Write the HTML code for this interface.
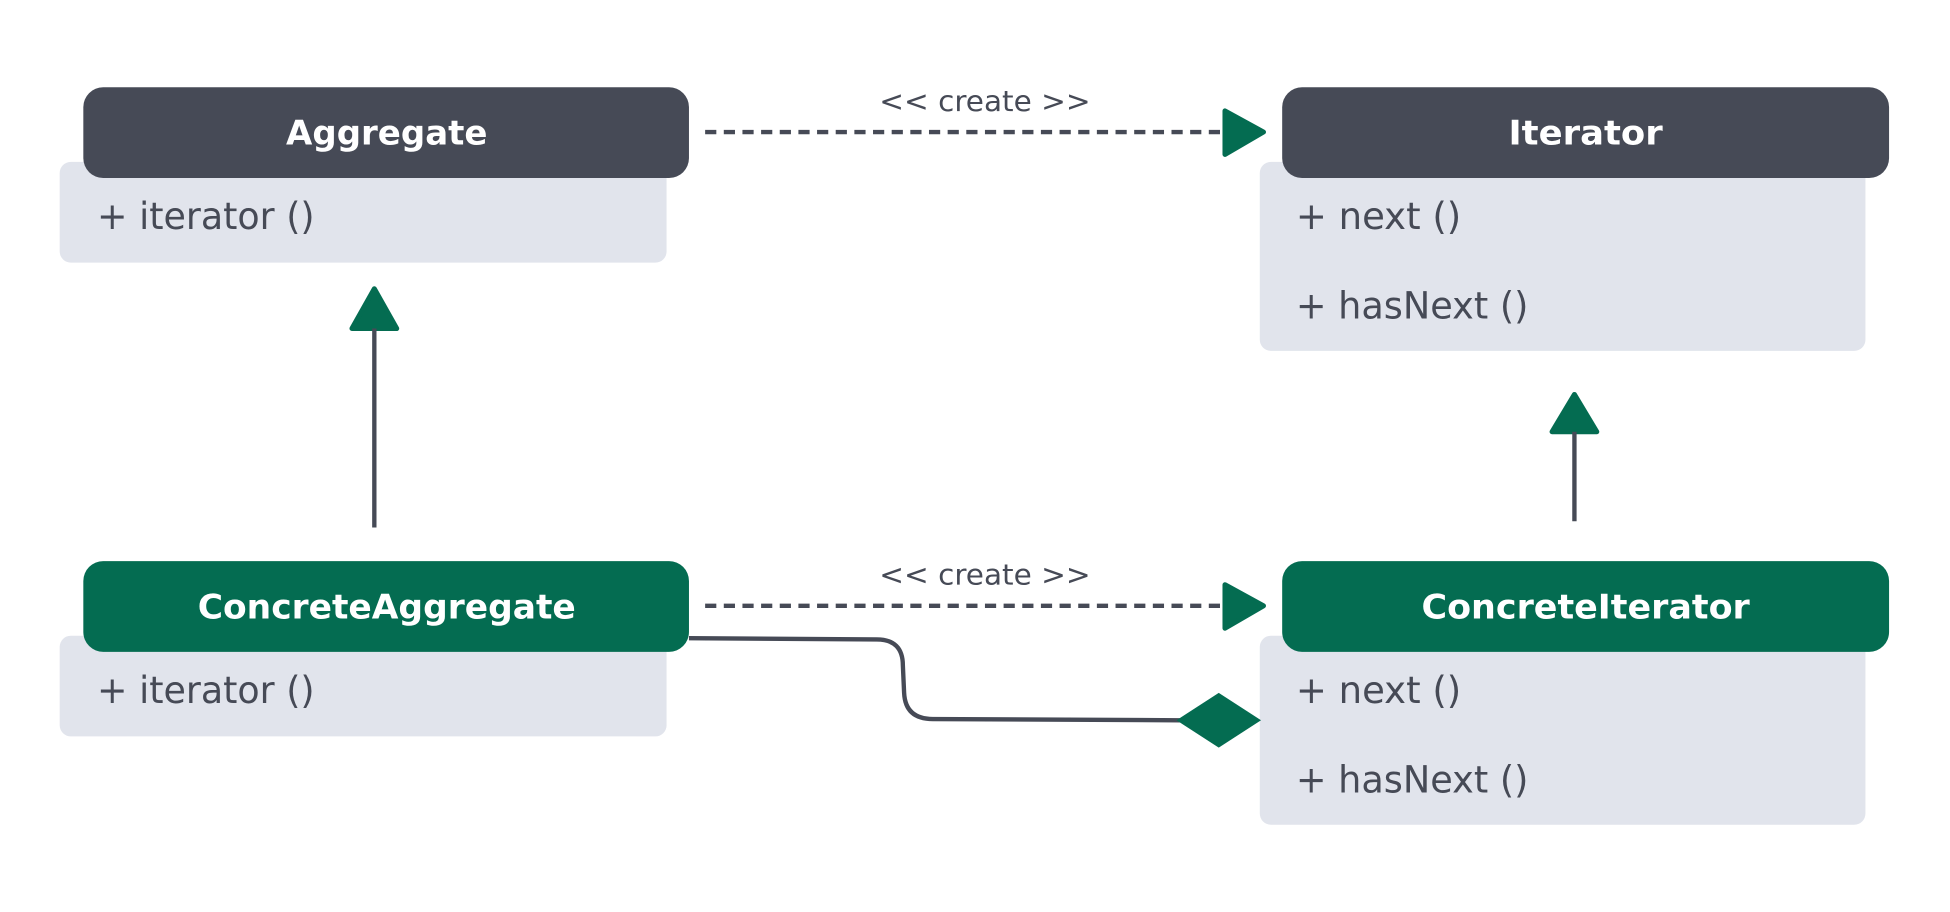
<!DOCTYPE html>
<html><head><meta charset="utf-8"><style>
html,body{margin:0;padding:0;background:#fff;}
svg{display:block;}
text{font-family:"DejaVu Sans","Liberation Sans",sans-serif;}
</style></head><body>
<svg width="1950" height="912" viewBox="0 0 1568 733" xmlns="http://www.w3.org/2000/svg">
<rect width="1568" height="733" fill="#fff"/>
<rect x="48" y="130" width="488" height="81" rx="9" fill="#e1e4ec"/>
<rect x="1013" y="130" width="487" height="152" rx="9" fill="#e1e4ec"/>
<rect x="48" y="511" width="488" height="81" rx="9" fill="#e1e4ec"/>
<rect x="1013" y="511" width="487" height="152" rx="9" fill="#e1e4ec"/>
<rect x="67" y="70" width="487" height="73" rx="16" fill="#464a56"/>
<rect x="1031" y="70" width="488" height="73" rx="16" fill="#464a56"/>
<rect x="67" y="451" width="487" height="73" rx="16" fill="#046c51"/>
<rect x="1031" y="451" width="488" height="73" rx="16" fill="#046c51"/>
<g fill="#fff" font-weight="bold" font-size="27" text-anchor="middle">
<text x="311" y="116" textLength="162" lengthAdjust="spacingAndGlyphs">Aggregate</text>
<text x="1275" y="116" textLength="124" lengthAdjust="spacingAndGlyphs">Iterator</text>
<text x="311" y="497" textLength="304" lengthAdjust="spacingAndGlyphs">ConcreteAggregate</text>
<text x="1275" y="497" textLength="264" lengthAdjust="spacingAndGlyphs">ConcreteIterator</text>
</g>
<g fill="#464a56" font-size="30">
<text x="78" y="184" textLength="175" lengthAdjust="spacingAndGlyphs">+ iterator ()</text>
<text x="1042" y="184" textLength="133" lengthAdjust="spacingAndGlyphs">+ next ()</text>
<text x="1042" y="256" textLength="187" lengthAdjust="spacingAndGlyphs">+ hasNext ()</text>
<text x="78" y="565" textLength="175" lengthAdjust="spacingAndGlyphs">+ iterator ()</text>
<text x="1042" y="565" textLength="133" lengthAdjust="spacingAndGlyphs">+ next ()</text>
<text x="1042" y="637" textLength="187" lengthAdjust="spacingAndGlyphs">+ hasNext ()</text>
</g>
<g fill="#464a56" font-size="23" text-anchor="middle">
<text x="792" y="89" textLength="170" lengthAdjust="spacingAndGlyphs">&lt;&lt; create &gt;&gt;</text>
<text x="792" y="470" textLength="170" lengthAdjust="spacingAndGlyphs">&lt;&lt; create &gt;&gt;</text>
</g>
<g stroke="#464a56" stroke-width="3.5" stroke-dasharray="9 6" fill="none">
<line x1="567" y1="106" x2="985" y2="106"/>
<line x1="567" y1="487" x2="985" y2="487"/>
</g>
<g fill="#046c51" stroke="#046c51" stroke-width="4" stroke-linejoin="round">
<path d="M985 89 L1016 106 L985 124 Z"/>
<path d="M985 470 L1016 487 L985 505 Z"/>
<path d="M301 232 L319 264 L283 264 Z"/>
<path d="M1266 317 L1284 347 L1248 347 Z"/>
</g>
<g stroke="#464a56" stroke-width="3.5" fill="none">
<line x1="301" y1="264" x2="301" y2="424"/>
<line x1="1266" y1="347" x2="1266" y2="419"/>
<path d="M554 513 L705 514 Q726 514 726 535 L727 557 Q728 578 750 578 L950 579"/>
</g>
<path d="M946 579 L980 557 L1014 579 L980 601 Z" fill="#046c51"/>
</svg>
</body></html>
